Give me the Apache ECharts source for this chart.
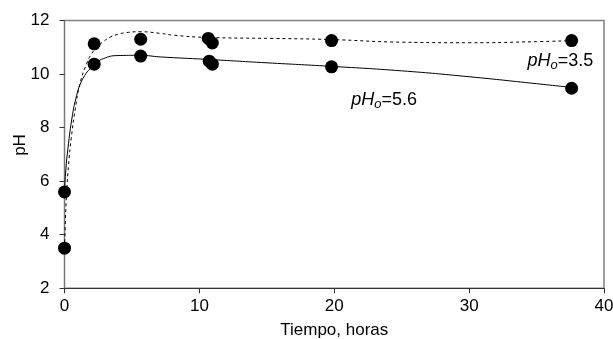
<!DOCTYPE html>
<html>
<head>
<meta charset="utf-8">
<script src="https://cdn.jsdelivr.net/npm/echarts@6/dist/echarts.min.js"></script>
<style>
html,body{margin:0;padding:0;background:#fff;}
#c{width:613px;height:339px;}
</style>
</head>
<body>
<div id="c"></div>
<script>
// Measured points (time in hours, pH)
var timeA = [0, 2.2, 5.65, 10.66, 10.96, 19.8, 37.6];
var phA   = [3.5, 11.13, 11.30, 11.33, 11.16, 11.25, 11.25];   // pHo = 3.5
var timeB = [0, 2.2, 5.65, 10.73, 10.96, 19.8, 37.6];
var phB   = [5.6, 10.37, 10.67, 10.48, 10.37, 10.27, 9.47];    // pHo = 5.6

// Fitted curves
var curveAx = [0, 0.05, 0.15, 0.3, 0.5, 0.8, 1.15, 1.65, 2.0, 2.4, 2.9, 3.4, 4.0, 4.6, 5.6, 7.1, 8.1, 10.5, 15.5, 19.7, 25, 30, 35, 37.6];
var curveAy = [3.5, 4.3, 5.5, 6.6, 7.6, 8.7, 9.65, 10.4, 10.75, 11.0, 11.22, 11.38, 11.49, 11.55, 11.58, 11.52, 11.45, 11.37, 11.33, 11.29, 11.19, 11.17, 11.21, 11.25];
var curveBx = [0, 0.08, 0.25, 0.6, 0.9, 1.15, 1.5, 1.9, 2.4, 2.9, 3.9, 5.6, 7.1, 10.5, 15, 19.7, 25, 30, 35, 37.6];
var curveBy = [5.6, 6.3, 7.2, 8.5, 9.2, 9.6, 9.95, 10.2, 10.43, 10.58, 10.69, 10.7, 10.64, 10.55, 10.42, 10.29, 10.12, 9.9, 9.64, 9.5];

var xTicks = [0, 10, 20, 30, 40];
var yTicks = [2, 4, 6, 8, 10, 12];
var xTitle = 'Tiempo, horas';
var yTitle = 'pH';
var labelA = {x: 39.2, y: 10.5, sub: 'o', text: '=3.5'};
var labelB = {x: 23.7, y: 9.03, sub: 'o', text: '=5.6'};

function zip(a, b) { return a.map(function (v, i) { return [v, b[i]]; }); }

var font = 'Liberation Sans, Arial, sans-serif';
var rich = {
  i: {fontFamily: font, fontSize: 18, fontStyle: 'italic', color: '#000', lineHeight: 22},
  s: {fontFamily: font, fontSize: 13, fontStyle: 'italic', color: '#000', lineHeight: 22, padding: [9, 0, 0, 0]},
  n: {fontFamily: font, fontSize: 18, color: '#000', lineHeight: 22}
};
function richLabel(l) { return '{i|pH}{s|' + l.sub + '}{n|' + l.text + '}'; }

var chart = echarts.init(document.getElementById('c'), null, {renderer: 'canvas'});
chart.setOption({
  animation: false,
  backgroundColor: '#fff',
  grid: {left: 64.5, right: 9, top: 20.5, bottom: 50.7, show: true, borderColor: '#808080', borderWidth: 1.5,
         containLabel: false, outerBoundsMode: 'none'},
  graphic: [{
    type: 'text', x: 20, y: 145, rotation: Math.PI / 2,
    style: {text: yTitle, fontFamily: font, fontSize: 17, fill: '#000', align: 'center', verticalAlign: 'middle'}
  }],
  xAxis: {
    type: 'value', min: xTicks[0], max: xTicks[xTicks.length - 1], interval: 10,
    name: xTitle, nameLocation: 'middle', nameGap: 34,
    nameTextStyle: {fontFamily: font, fontSize: 17, color: '#000'},
    axisLine: {show: true, lineStyle: {color: '#333', width: 1}},
    axisTick: {show: true, length: 5, lineStyle: {color: '#333'}},
    axisLabel: {fontFamily: font, fontSize: 17, color: '#000', margin: 10},
    splitLine: {show: false}
  },
  yAxis: {
    type: 'value', min: yTicks[0], max: yTicks[yTicks.length - 1], interval: 2,
    axisLine: {show: true, lineStyle: {color: '#777', width: 1}},
    axisTick: {show: true, length: 5, lineStyle: {color: '#333'}},
    axisLabel: {fontFamily: font, fontSize: 17, color: '#000', margin: 15},
    splitLine: {show: false}
  },
  series: [
    {type: 'line', data: zip(curveAx, curveAy), showSymbol: false, smooth: 0.5,
     lineStyle: {color: '#000', width: 1, type: [3, 3]}, z: 2},
    {type: 'line', data: zip(curveBx, curveBy), showSymbol: false, smooth: 0.5,
     lineStyle: {color: '#000', width: 1}, z: 2},
    {type: 'scatter', data: zip(timeA, phA), symbol: 'circle', symbolSize: 13, itemStyle: {color: '#000', opacity: 1}, z: 3},
    {type: 'scatter', data: zip(timeB, phB), symbol: 'circle', symbolSize: 13, itemStyle: {color: '#000', opacity: 1}, z: 3},
    {type: 'scatter', symbolSize: 0, silent: true, z: 4, itemStyle: {opacity: 1},
     data: [
       {value: [labelA.x, labelA.y], label: {show: true, position: 'inside', align: 'right', color: '#000', formatter: richLabel(labelA), rich: rich}},
       {value: [labelB.x, labelB.y], label: {show: true, position: 'inside', align: 'center', color: '#000', formatter: richLabel(labelB), rich: rich}}
     ]}
  ]
});
</script>
</body>
</html>
